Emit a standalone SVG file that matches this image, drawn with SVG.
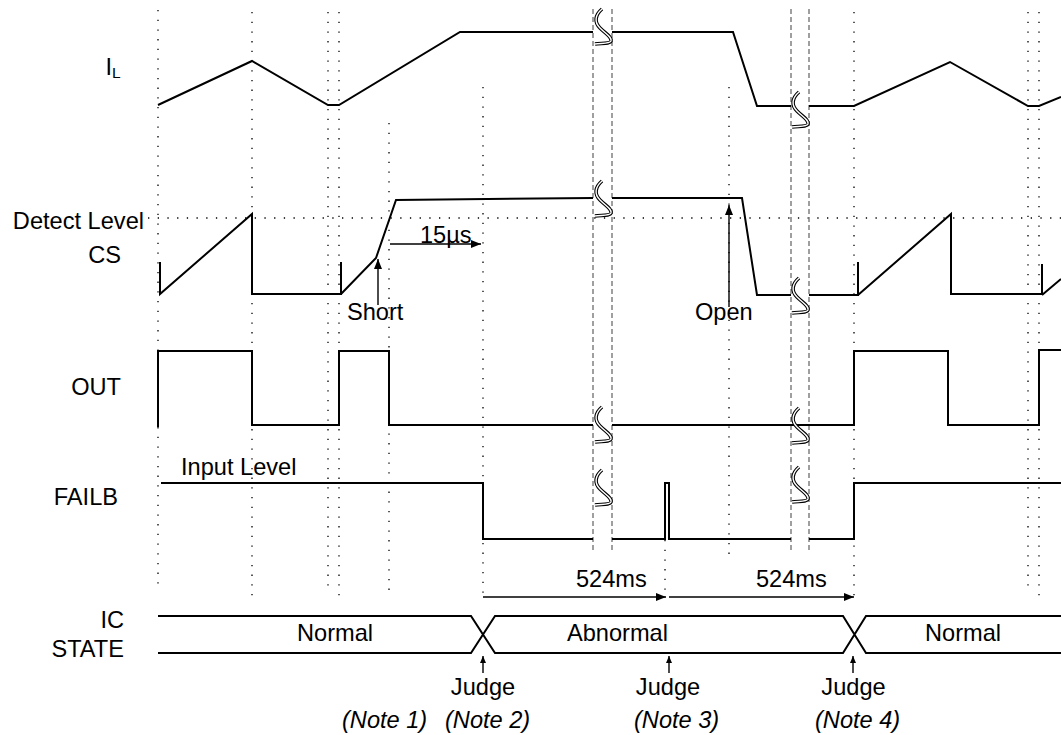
<svg xmlns="http://www.w3.org/2000/svg" width="1061" height="735" viewBox="0 0 1061 735">
<style>
text{font-family:"Liberation Sans",Arial,sans-serif;font-size:23.6px;fill:#000}
.it{font-style:italic}
.wave{fill:none;stroke:#000;stroke-width:2;stroke-linejoin:miter}
.dot{fill:none;stroke:#000;stroke-width:1.3;stroke-dasharray:1.3 8.4}
.dash{fill:none;stroke:#808080;stroke-width:1.5;stroke-dasharray:5 3}
.arr{fill:none;stroke:#000;stroke-width:1.4}
.bo{fill:none;stroke:#000;stroke-width:3.6}
.bi{fill:none;stroke:#fff;stroke-width:1.4}
</style>
<defs>
<marker id="ah" markerUnits="userSpaceOnUse" markerWidth="12" markerHeight="10" refX="10" refY="4" orient="auto">
<path d="M0,0 L10,4 L0,8 Z" fill="#000"/>
</marker>
<marker id="ahs" markerUnits="userSpaceOnUse" markerWidth="10" markerHeight="8" refX="7" refY="3" orient="auto">
<path d="M0,0 L7,3 L0,6 Z" fill="#000"/>
</marker>
<g id="brk">
<path class="bo" d="M-1,-19 C-8,-13 -9,-6 -3,0 C3,6 9,9 8,13 C7,16 -2,15 -8,16"/>
<path class="bi" d="M-1,-19 C-8,-13 -9,-6 -3,0 C3,6 9,9 8,13 C7,16 -2,15 -8,16"/>
</g>
</defs>
<rect width="1061" height="735" fill="#fff"/>

<g id="grid">
<path class="dot" d="M158,10V588 M252,12V598 M328,12V590 M339,12V597 M389,123V594 M483,87V597 M665,540V597 M729,87V557 M854,12V597 M1028,12V588 M1039,12V597"/>
<path class="dot" d="M148,218H1061"/>
<path class="dash" d="M593,9V553 M612,9V553 M791,9V553 M809,9V553"/>
</g>

<g id="labels">
<text x="105.5" y="75">I<tspan font-size="15.5" dy="3">L</tspan></text>
<text x="144" y="229" text-anchor="end">Detect Level</text>
<text x="121" y="263" text-anchor="end">CS</text>
<text x="121" y="395" text-anchor="end">OUT</text>
<text x="118" y="505" text-anchor="end">FAILB</text>
<text x="124" y="628" text-anchor="end">IC</text>
<text x="124" y="657" text-anchor="end">STATE</text>
</g>

<g id="IL">
<path class="wave" d="M158,105 L252,61 L328,105 H339 L460,32 H593 M612,32 H733 L757,106 H791 M809,106 H854 L950,62 L1028,106 H1039 L1061,97"/>
</g>

<g id="CS">
<path class="wave" d="M160,262 V294 L252,214 V294 H341 V262 M341,294 L376,258 L396,200 L593,198 M612,198 H742 L757,295 H791 M809,295 H858 V262 M858,295 L951,214 V294 H1042 V264 M1042,295 L1061,279"/>
</g>

<g id="OUT">
<path class="wave" d="M158,427 V351 H252 V425 H339 V351 H389 V425 H593 M612,425 H854 V351 H948 V425 H1039 V350 H1061"/>
</g>

<g id="FAILB">
<path class="wave" d="M161,483 H483 V539 H593 M612,539 H665 V483 H669 V539 H791 M809,539 H854 V483 H1061"/>
<text x="181" y="475">Input Level</text>
</g>

<g id="ICSTATE">
<path class="wave" d="M158,616 H471 L495,653 H843 L866,616 H1061 M158,653 H471 L495,616 H843 L866,653 H1061"/>
<text x="297" y="641">Normal</text>
<text x="567" y="641">Abnormal</text>
<text x="925" y="641">Normal</text>
</g>

<g id="breaks">
<use href="#brk" x="603" y="28"/>
<use href="#brk" x="603" y="200"/>
<use href="#brk" x="603" y="426"/>
<use href="#brk" x="603" y="489"/>
<use href="#brk" x="800" y="111"/>
<use href="#brk" x="800" y="297"/>
<use href="#brk" x="800" y="427"/>
<use href="#brk" x="800" y="486"/>
</g>

<g id="connectors">
<path class="arr" marker-end="url(#ah)" d="M378,305 V259"/>
<path class="arr" marker-end="url(#ah)" d="M729,307 V205"/>
<path class="arr" marker-end="url(#ah)" d="M390,244 H481"/>
<path class="arr" marker-end="url(#ah)" d="M483,597 H666"/>
<path class="arr" marker-end="url(#ah)" d="M669,597 H854"/>
<path class="arr" marker-end="url(#ahs)" d="M483,673 V656"/>
<path class="arr" marker-end="url(#ahs)" d="M669,673 V656"/>
<path class="arr" marker-end="url(#ahs)" d="M853,673 V656"/>
</g>

<g id="annotations">
<text x="347" y="320">Short</text>
<text x="695" y="320">Open</text>
<text x="420" y="243">15µs</text>
<text x="576" y="587">524ms</text>
<text x="756" y="587">524ms</text>
<text x="483" y="695" text-anchor="middle">Judge</text>
<text x="668" y="695" text-anchor="middle">Judge</text>
<text x="853.5" y="695" text-anchor="middle">Judge</text>
<text class="it" x="342" y="728">(Note 1)</text>
<text class="it" x="445" y="728">(Note 2)</text>
<text class="it" x="634" y="728">(Note 3)</text>
<text class="it" x="815" y="728">(Note 4)</text>
</g>
</svg>
